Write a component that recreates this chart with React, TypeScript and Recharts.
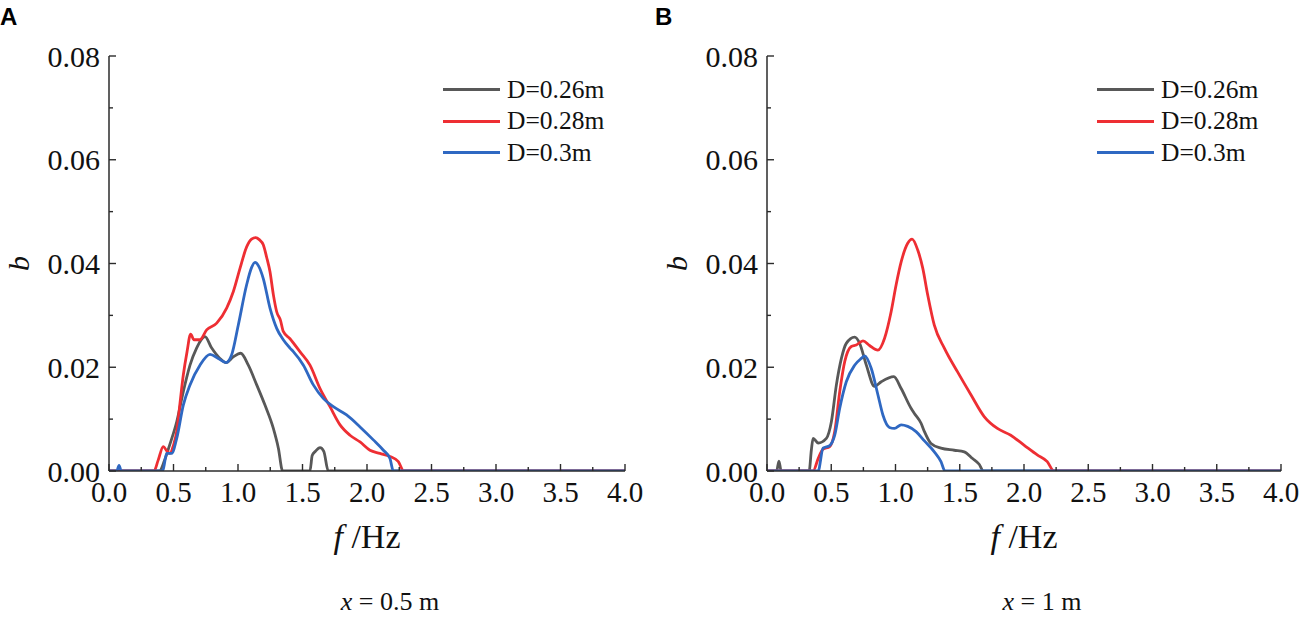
import { Legend, Line, LineChart, XAxis, YAxis } from "recharts";

// [f (Hz), b] pairs
const A_D026: [number, number][] = [
  [0, 0], [0.39, 0], [0.43, 0.002], [0.47, 0.005], [0.525, 0.0095], [0.576, 0.0153],
  [0.628, 0.0204], [0.679, 0.0237], [0.744, 0.0259], [0.796, 0.0237], [0.86, 0.0217],
  [0.907, 0.0209], [0.964, 0.022], [1.021, 0.0227], [1.08, 0.0204], [1.145, 0.0166],
  [1.209, 0.0127], [1.274, 0.0082], [1.313, 0.0044], [1.346, 0], [1.558, 0],
  [1.575, 0.003], [1.6, 0.0038], [1.636, 0.0045], [1.665, 0.0038], [1.7, 0], [4, 0],
];
const A_D028: [number, number][] = [
  [0, 0], [0.349, 0], [0.38, 0.002], [0.421, 0.0047], [0.45, 0.0038], [0.472, 0.0034],
  [0.5, 0.005], [0.525, 0.0076], [0.55, 0.013], [0.576, 0.0185], [0.605, 0.023],
  [0.633, 0.0264], [0.659, 0.0253], [0.705, 0.0253], [0.757, 0.0272], [0.835, 0.0285],
  [0.912, 0.0314], [0.964, 0.0346], [1.016, 0.0391], [1.067, 0.0432], [1.105, 0.0447],
  [1.137, 0.045], [1.165, 0.0446], [1.196, 0.0436], [1.222, 0.0412], [1.248, 0.0384],
  [1.274, 0.034], [1.3, 0.0307], [1.33, 0.029], [1.351, 0.0269], [1.403, 0.0255],
  [1.48, 0.023], [1.558, 0.0204], [1.636, 0.0159], [1.713, 0.0124], [1.791, 0.0089],
  [1.868, 0.0069], [1.946, 0.0056], [2.023, 0.004], [2.1, 0.0034], [2.178, 0.0028],
  [2.243, 0.0018], [2.285, 0], [4, 0],
];
const A_D030: [number, number][] = [
  [0, 0], [0.06, 0], [0.078, 0.0011], [0.095, 0], [0.416, 0], [0.447, 0.0034],
  [0.486, 0.0034], [0.525, 0.0063], [0.576, 0.0127], [0.628, 0.0166], [0.705, 0.0204],
  [0.783, 0.0225], [0.847, 0.0217], [0.907, 0.0209], [0.951, 0.0224], [1.002, 0.0281],
  [1.067, 0.0359], [1.105, 0.0392], [1.132, 0.0402], [1.16, 0.0395], [1.196, 0.0371],
  [1.248, 0.0314], [1.3, 0.0275], [1.351, 0.0253], [1.403, 0.0237], [1.429, 0.023],
  [1.507, 0.0204], [1.584, 0.0166], [1.661, 0.014], [1.739, 0.0124], [1.842, 0.0108],
  [1.946, 0.0085], [2.049, 0.006], [2.127, 0.004], [2.178, 0.0024], [2.204, 0], [4, 0],
];

const B_D026: [number, number][] = [
  [0, 0], [0.075, 0], [0.093, 0.0019], [0.11, 0], [0.328, 0], [0.345, 0.004],
  [0.359, 0.0063], [0.398, 0.0054], [0.462, 0.0063], [0.501, 0.0095], [0.54, 0.0166],
  [0.579, 0.0217], [0.617, 0.0246], [0.682, 0.0258], [0.721, 0.0246], [0.773, 0.0204],
  [0.837, 0.0163], [0.889, 0.0172], [0.987, 0.0182], [1.044, 0.0159], [1.121, 0.0121],
  [1.147, 0.0111], [1.199, 0.0092], [1.225, 0.0076], [1.276, 0.0053], [1.354, 0.0044],
  [1.457, 0.004], [1.535, 0.0037], [1.6, 0.0024], [1.651, 0.0013], [1.685, 0], [4, 0],
];
const B_D028: [number, number][] = [
  [0, 0], [0.359, 0], [0.398, 0.0024], [0.436, 0.0042], [0.488, 0.0047], [0.527, 0.0076],
  [0.566, 0.0153], [0.605, 0.0211], [0.656, 0.024], [0.695, 0.0243], [0.747, 0.0251],
  [0.798, 0.0242], [0.863, 0.0233], [0.915, 0.0256], [0.966, 0.0307], [1.005, 0.0359],
  [1.044, 0.0403], [1.095, 0.0439], [1.129, 0.0447], [1.173, 0.0426], [1.212, 0.0391],
  [1.251, 0.0339], [1.302, 0.0281], [1.38, 0.0237], [1.483, 0.0191], [1.587, 0.0147],
  [1.69, 0.0105], [1.793, 0.0082], [1.897, 0.0069], [2.0, 0.005], [2.103, 0.0031],
  [2.181, 0.0018], [2.233, 0], [4, 0],
];
const B_D030: [number, number][] = [
  [0, 0], [0.398, 0], [0.436, 0.0044], [0.488, 0.0049], [0.527, 0.0069], [0.566, 0.0121],
  [0.617, 0.0172], [0.682, 0.0204], [0.734, 0.0217], [0.76, 0.0222], [0.811, 0.0198],
  [0.863, 0.0147], [0.902, 0.0108], [0.953, 0.0084], [0.992, 0.0082], [1.044, 0.0089],
  [1.095, 0.0086], [1.16, 0.0076], [1.225, 0.0058], [1.302, 0.0037], [1.354, 0.0018],
  [1.385, 0], [4, 0],
];

const SERIES_NAMES = ["D=0.26m", "D=0.28m", "D=0.3m"];
const COLORS = ["#585858", "#ee2e33", "#2f68c2"];
const X_TICKS = [0, 0.25, 0.5, 0.75, 1, 1.25, 1.5, 1.75, 2, 2.25, 2.5, 2.75, 3, 3.25, 3.5, 3.75, 4];
const Y_TICKS = [0, 0.01, 0.02, 0.03, 0.04, 0.05, 0.06, 0.07, 0.08];

const SERIF = "'Liberation Serif', 'Times New Roman', serif";
const AXIS = "#2b2b2b";

const toPoints = (pairs: [number, number][]) => pairs.map(([f, b]) => ({ f, b }));

function XTick({ x, y, payload }: any) {
  const v = payload.value;
  const major = Math.abs(v * 2 - Math.round(v * 2)) < 1e-6;
  return (
    <g>
      <line x1={x} x2={x} y1={y} y2={y - (major ? 7 : 4)} stroke={AXIS} strokeWidth={1.4} />
      {major && (
        <text x={x} y={y + 31} textAnchor="middle" fontSize={29} fontFamily={SERIF} fill="#111">
          {v.toFixed(1)}
        </text>
      )}
    </g>
  );
}

function YTick({ x, y, payload }: any) {
  const v = payload.value;
  const major = Math.round(v * 1000) % 20 === 0;
  return (
    <g>
      <line x1={x} x2={x + (major ? 7 : 4)} y1={y} y2={y} stroke={AXIS} strokeWidth={1.4} />
      {major && (
        <text x={x - 9} y={y} dy="0.35em" textAnchor="end" fontSize={30} fontFamily={SERIF} fill="#111">
          {v.toFixed(2)}
        </text>
      )}
    </g>
  );
}

function xLabel(props: any) {
  const vb = props.viewBox;
  return (
    <text x={vb.x + vb.width / 2} y={vb.y + 77} textAnchor="middle" fontSize={34} fontFamily={SERIF} fill="#111">
      <tspan fontStyle="italic">f</tspan>
      <tspan> /Hz</tspan>
    </text>
  );
}

function yLabel(props: any) {
  const vb = props.viewBox;
  const tx = vb.x - 20;
  const ty = vb.y + vb.height / 2;
  return (
    <text
      x={tx}
      y={ty}
      transform={`rotate(-90, ${tx}, ${ty})`}
      textAnchor="middle"
      fontSize={30}
      fontStyle="italic"
      fontFamily={SERIF}
      fill="#111"
    >
      b
    </text>
  );
}

function LegendBox({ payload }: any) {
  return (
    <div style={{ fontFamily: SERIF, fontSize: 25.5, color: "#111" }}>
      {(payload || []).map((p: any) => (
        <div key={p.value} style={{ display: "flex", alignItems: "center", height: 31.5 }}>
          <span style={{ display: "inline-block", width: 57, height: 3, background: p.color, marginRight: 7 }} />
          <span style={{ lineHeight: "26px" }}>{p.value}</span>
        </div>
      ))}
    </div>
  );
}

function Panel({
  series,
  left,
  marginLeft,
  marginRight,
  legendLeft,
}: {
  series: [number, number][][];
  left: number;
  marginLeft: number;
  marginRight: number;
  legendLeft: number;
}) {
  return (
    <div style={{ position: "absolute", left, top: 0 }}>
      <LineChart width={650} height={618} margin={{ top: 56, right: marginRight, bottom: 107, left: marginLeft }}>
        <XAxis
          dataKey="f"
          type="number"
          domain={[0, 4]}
          ticks={X_TICKS}
          interval={0}
          allowDataOverflow
          height={40}
          tickSize={0}
          tickMargin={0}
          tickLine={false}
          tick={<XTick />}
          axisLine={{ stroke: AXIS, strokeWidth: 1.5 }}
          label={xLabel}
        />
        <XAxis
          xAxisId="top"
          orientation="top"
          type="number"
          domain={[0, 4]}
          height={0}
          tick={false}
          tickLine={false}
          axisLine={{ stroke: AXIS, strokeWidth: 1.5 }}
        />
        <YAxis
          type="number"
          domain={[0, 0.08]}
          ticks={Y_TICKS}
          interval={0}
          allowDataOverflow
          width={60}
          tickSize={0}
          tickMargin={0}
          tickLine={false}
          tick={<YTick />}
          axisLine={{ stroke: AXIS, strokeWidth: 1.5 }}
          label={yLabel}
        />
        <YAxis
          yAxisId="right"
          orientation="right"
          type="number"
          domain={[0, 0.08]}
          width={0}
          tick={false}
          tickLine={false}
          axisLine={{ stroke: AXIS, strokeWidth: 1.5 }}
        />
        {series.map((pairs, i) => (
          <Line
            key={SERIES_NAMES[i]}
            data={toPoints(pairs)}
            dataKey="b"
            name={SERIES_NAMES[i]}
            type="monotone"
            stroke={COLORS[i]}
            strokeWidth={2.8}
            dot={false}
            activeDot={false}
            isAnimationActive={false}
          />
        ))}
        <Legend
          layout="vertical"
          align="center"
          verticalAlign="middle"
          content={<LegendBox />}
          wrapperStyle={{ top: 74, left: legendLeft, width: "auto", height: "auto" }}
        />
      </LineChart>
    </div>
  );
}

export default function App() {
  return (
    <div style={{ position: "absolute", left: 0, top: 0, width: 1300, height: 618, background: "#fff" }}>
      <Panel series={[A_D026, A_D028, A_D030]} left={0} marginLeft={49} marginRight={25} legendLeft={443} />
      <Panel series={[B_D026, B_D028, B_D030]} left={650} marginLeft={57} marginRight={19} legendLeft={447} />
      <svg width={1300} height={618} style={{ position: "absolute", left: 0, top: 0, pointerEvents: "none" }}>
        <text x={0} y={25} fontSize={24} fontWeight="bold" fontFamily="'Liberation Sans', Arial, sans-serif" fill="#000">
          A
        </text>
        <text x={655} y={25} fontSize={24} fontWeight="bold" fontFamily="'Liberation Sans', Arial, sans-serif" fill="#000">
          B
        </text>
        <text x={390} y={610} textAnchor="middle" fontSize={26} fontFamily={SERIF} fill="#111">
          <tspan fontStyle="italic">x</tspan>
          <tspan> = 0.5 m</tspan>
        </text>
        <text x={1042} y={610} textAnchor="middle" fontSize={26} fontFamily={SERIF} fill="#111">
          <tspan fontStyle="italic">x</tspan>
          <tspan> = 1 m</tspan>
        </text>
      </svg>
    </div>
  );
}
